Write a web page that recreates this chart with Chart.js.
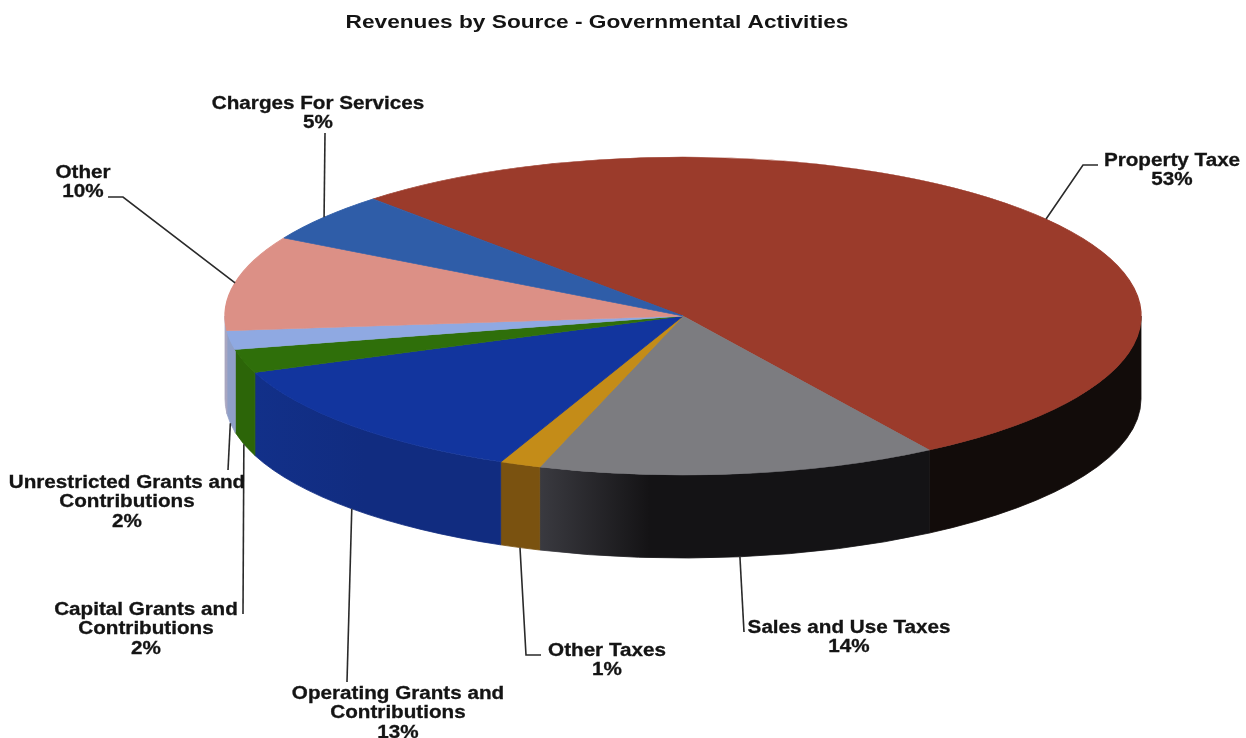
<!DOCTYPE html>
<html>
<head>
<meta charset="utf-8">
<title>Revenues by Source - Governmental Activities</title>
<script src="https://cdn.jsdelivr.net/npm/chart.js@4/dist/chart.umd.min.js"></script>
<style>
  html, body { margin: 0; padding: 0; background: #fff; }
  #wrap { width: 1246px; height: 738px; }
</style>
</head>
<body>
<div id="wrap"><canvas id="myChart"></canvas></div>
<script>
const categories = ['Property Taxe', 'Sales and Use Taxes', 'Other Taxes', 'Operating Grants and Contributions',
  'Capital Grants and Contributions', 'Unrestricted Grants and Contributions', 'Other', 'Charges For Services']
const shares = [52.8, 14.1, 1.45, 12.7, 2.4, 1.9, 9.65, 5]

const labelLines = [['Property Taxe'], ['Sales and Use Taxes'], ['Other Taxes'], ['Operating Grants and', 'Contributions'],
  ['Capital Grants and', 'Contributions'], ['Unrestricted Grants and', 'Contributions'], ['Other'], ['Charges For Services']]

const topColors = ['#9b3b2b', '#7c7c80', '#c48c18', '#12359e', '#2f6f0a', '#8fa9e2', '#dc9086', '#2f5da8']
const sideColors = [['#120c0a', '#120c0a'], ['#3a3a40', '#141315'], ['#7a5210', '#7a5210'], ['#123089', '#112c80'],
  ['#2c6508', '#2c6508'], ['#8f9fc8', '#8f9fc8'], ['#a9a6c0', '#a9a6c0'], ['#2f5da8', '#2f5da8']]

// label placement: centre x, first line y
const labelPos = [[1172, 161], [849, 628], [607, 651], [398, 694], [146, 610], [127, 483], [83, 173], [318, 104]]
// where each leader goes after leaving its slice
const leaderPaths = [
  [[1083, 165], [1098, 165]],
  [[744, 632]],
  [[526, 655], [541, 655]],
  [[347, 682]],
  [[243, 614]],
  [[228, 470]],
  [[123, 197], [108, 197]],
  [[325, 133]]
]

// pie projection
const centerX = 683, centerY = 316, radiusX = 458, radiusY = 159, depth = 83
const rotationDeg = -42.6
const fontFamily = '"Liberation Sans", Arial, sans-serif'
const titleStretch = 1.26
const labelStretch = 1.18

const pie3d = {
  id: 'pie3d',
  beforeDraw(chart) {
    // the scanned lettering is wider than the font, stretch the title around its centre
    const ctx = chart.ctx
    const mid = (chart.titleBlock.left + chart.titleBlock.right) / 2
    ctx.save()
    ctx.translate(mid, 0)
    ctx.scale(titleStretch, 1)
    ctx.translate(-mid, 0)
  },
  beforeDatasetsDraw(chart) {
    const ctx = chart.ctx
    ctx.restore()
    const arcs = chart.getDatasetMeta(0).data
    // side wall, only the part facing the viewer
    arcs.forEach((arc, i) => {
      for (let turn = -2; turn <= 2; turn += 2) {
        const a0 = Math.max(arc.startAngle, turn * Math.PI)
        const a1 = Math.min(arc.endAngle, (turn + 1) * Math.PI)
        if (a1 <= a0) continue
        const x0 = centerX + radiusX * Math.cos(a0)
        const x1 = centerX + radiusX * Math.cos(a1)
        const grad = ctx.createLinearGradient(Math.min(x0, x1), 0, Math.max(x0, x1), 0)
        grad.addColorStop(0, sideColors[i][0])
        grad.addColorStop(Math.min(1, 110 / Math.max(1, Math.abs(x1 - x0))), sideColors[i][1])
        grad.addColorStop(1, sideColors[i][1])
        ctx.beginPath()
        ctx.ellipse(centerX, centerY, radiusX, radiusY, 0, a0, a1)
        ctx.ellipse(centerX, centerY + depth, radiusX, radiusY, 0, a1, a0, true)
        ctx.closePath()
        ctx.fillStyle = grad
        ctx.strokeStyle = grad
        ctx.lineWidth = 0.8
        ctx.fill()
        ctx.stroke()
      }
    })
    // squash the library's round pie into the tilted disc
    const first = arcs[0]
    ctx.save()
    ctx.translate(centerX, centerY)
    ctx.scale(radiusX / first.outerRadius, radiusY / first.outerRadius)
    ctx.translate(-first.x, -first.y)
  },
  afterDatasetsDraw(chart) {
    const ctx = chart.ctx
    ctx.restore()
    const arcs = chart.getDatasetMeta(0).data

    ctx.strokeStyle = '#2a2a2a'
    ctx.lineWidth = 1.6
    arcs.forEach((arc, i) => {
      const mid = (arc.startAngle + arc.endAngle) / 2
      const px = centerX + radiusX * Math.cos(mid)
      const py = centerY + radiusY * Math.sin(mid) + (Math.sin(mid) > 0 ? depth : 0)
      ctx.beginPath()
      ctx.moveTo(px, py)
      leaderPaths[i].forEach(q => ctx.lineTo(q[0], q[1]))
      ctx.stroke()
    })

    ctx.fillStyle = '#141414'
    ctx.strokeStyle = '#141414'
    ctx.lineWidth = 0.3
    ctx.font = 'bold 17.5px ' + fontFamily
    ctx.textAlign = 'center'
    ctx.textBaseline = 'middle'
    labelLines.forEach((lines, i) => {
      const rows = lines.concat(Math.round(shares[i]) + '%')
      rows.forEach((row, r) => {
        ctx.save()
        ctx.translate(labelPos[i][0], labelPos[i][1] + r * 19.5)
        ctx.scale(labelStretch, 1)
        ctx.fillText(row, 0, 0)
        ctx.strokeText(row, 0, 0)
        ctx.restore()
      })
    })
  }
}

new Chart(document.getElementById('myChart'), {
  type: 'pie',
  data: {
    labels: categories,
    datasets: [{
      data: shares,
      backgroundColor: topColors,
      borderColor: topColors,
      borderWidth: 1,
      clip: false
    }]
  },
  options: {
    responsive: true,
    maintainAspectRatio: false,
    devicePixelRatio: 1,
    animation: false,
    rotation: rotationDeg,
    layout: { padding: { right: 52 } },
    plugins: {
      legend: { display: false },
      tooltip: { enabled: false },
      title: {
        display: true,
        text: 'Revenues by Source - Governmental Activities',
        color: '#141414',
        font: { family: fontFamily, size: 18, weight: 'bold' },
        padding: { top: 12, bottom: 10 }
      }
    }
  },
  plugins: [pie3d]
})
</script>
</body>
</html>
